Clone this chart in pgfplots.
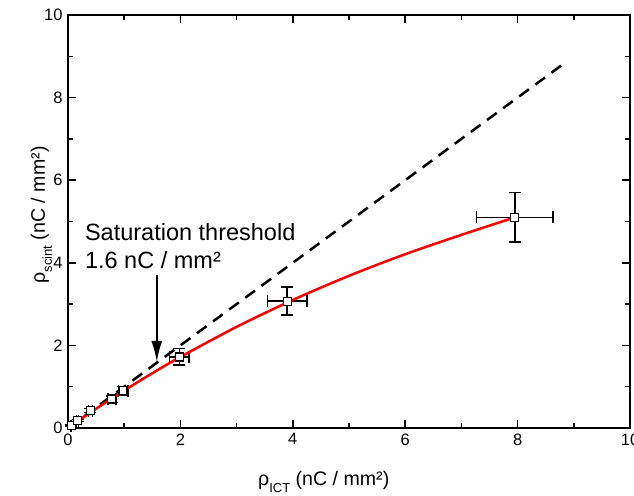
\documentclass[border=0pt]{standalone}
\usepackage{fontspec}
\setmainfont{Liberation Sans}
\usepackage{pgfplots}
\pgfplotsset{compat=1.18}
\usetikzlibrary{arrows.meta}
\begin{document}
\begin{tikzpicture}
	\begin{axis}[
			scale only axis, width=562pt, height=413pt,
			xmin=0, xmax=10, ymin=0, ymax=10,
			xtick={0,2,...,10}, ytick={0,2,...,10},
			minor tick num=1,
			tick align=inside, major tick length=8pt, minor tick length=5pt,
			axis line style={line width=1.5pt},
			tick style={black, line width=1.5pt},
			tick label style={font=\fontsize{16.5}{16.5}\selectfont},
			/pgf/number format/assume math mode=true,
			xticklabel style={yshift=-2pt}, yticklabel style={xshift=-2pt},
			clip=false,
		]
		\coordinate (o) at (rel axis cs:0,0);
		% identity line
		\addplot[black, line width=2.5pt, dash pattern=on 12pt off 8pt]
		coordinates {(0,0) (8.8,8.8)};
		% measured points
		\addplot[black, line width=1.3pt, only marks, mark=square*,
			mark options={fill=white, mark size=4pt, line width=1.3pt},
			error bars/.cd, x dir=both, x explicit, y dir=both, y explicit,
			error bar style={line width=1.5pt},
			error mark options={rotate=90, mark size=6pt, line width=1.5pt}]
		coordinates {
				(0.06,0.06) +- (0.005,0.007)
				(0.17,0.18) +- (0.015,0.02)
				(0.40,0.42) +- (0.035,0.05)
				(0.78,0.70) +- (0.07,0.08)
				(0.98,0.90) +- (0.085,0.1)
				(1.98,1.72) +- (0.17,0.2)
				(3.90,3.07) +- (0.35,0.34)
				(7.95,5.10) +- (0.68,0.60)
			};
		% fit
		\addplot[red, line width=2.5pt, smooth]
		coordinates {(0,0) (0.5,0.467) (1,0.908) (1.5,1.326) (2,1.721) (3,2.449)
				(4,3.100) (5,3.685) (6,4.208) (7,4.676) (7.95,5.10)};
		\draw[-{Latex[length=21pt,width=11pt]}, line width=2pt]
		(axis cs:1.58,3.7) -- (axis cs:1.58,1.6);
		\node[anchor=base west, inner sep=0pt, font=\fontsize{23.5}{23.5}\selectfont]
		at (axis cs:0.3,4.53) {Saturation threshold};
		\node[anchor=base west, inner sep=0pt, font=\fontsize{23.5}{23.5}\selectfont]
		at (axis cs:0.3,3.87) {1.6 nC / mm²};
		\node[anchor=base, inner sep=0pt, font=\fontsize{19.6}{19.6}\selectfont]
		at ([yshift=-57pt]rel axis cs:0.455,0)
		{ρ\raisebox{-7pt}{\fontsize{13}{13}\selectfont ICT} (nC / mm²)};
		\node[rotate=90, anchor=base, inner sep=0pt, font=\fontsize{19.6}{19.6}\selectfont]
		at ([xshift=-23pt]rel axis cs:0,0.516)
		{ρ\raisebox{-7pt}{\fontsize{13}{13}\selectfont scint} (nC / mm²)};
	\end{axis}
	\pgfresetboundingbox
	\path[use as bounding box] (o) ++(-68pt,-67pt) rectangle ++(634pt,495pt);
\end{tikzpicture}
\end{document}
